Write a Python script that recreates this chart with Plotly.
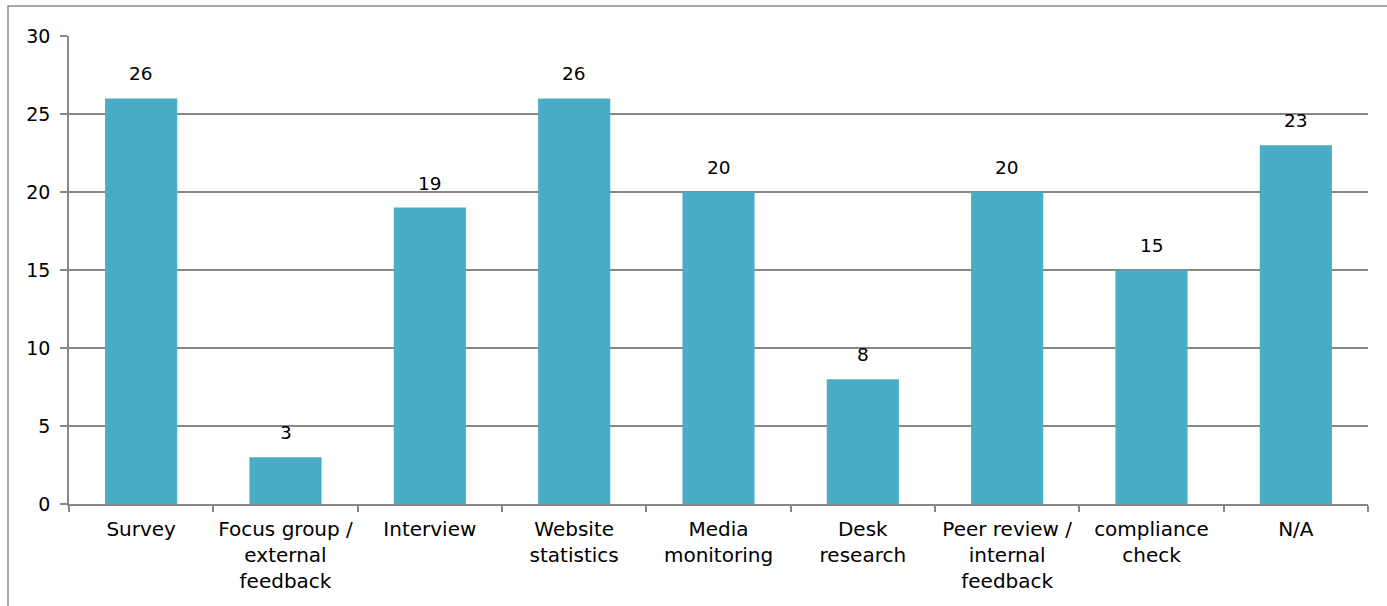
import plotly.graph_objects as go

categories = ["Survey", "Focus group /<br>external<br>feedback", "Interview", "Website<br>statistics",
              "Media<br>monitoring", "Desk<br>research", "Peer review /<br>internal<br>feedback",
              "compliance<br>check", "N/A"]
values = [26, 3, 19, 26, 20, 8, 20, 15, 23]
y_ticks = [0, 5, 10, 15, 20, 25, 30]

FONT = "DejaVu Sans"
GRID = "#878787"

fig = go.Figure()
fig.add_trace(go.Bar(x=categories, y=values, marker=dict(color="#4BACC6", line=dict(width=0)),
                     width=0.5, showlegend=False, hoverinfo="skip"))

for c, v in zip(categories, values):
    fig.add_annotation(x=c, y=v, text=str(v), showarrow=False, yanchor="bottom",
                       yshift=12, font=dict(family=FONT, size=18.5, color="#000000"))

L, R, T, B = 69, 1368, 36, 504
W, H = 1387, 606
pw, ph = R - L, B - T

fig.add_shape(type="rect", xref="paper", yref="paper",
              x0=(8 - L) / pw, x1=(1400 - L) / pw,
              y0=(B - 640) / ph, y1=(B - 6) / ph,
              line=dict(color="#8c8c8c", width=1.5), fillcolor="rgba(0,0,0,0)", layer="below")

fig.update_layout(
    width=W, height=H,
    margin=dict(l=L, r=W - R, t=T, b=H - B, pad=0),
    paper_bgcolor="white", plot_bgcolor="white",
    font=dict(family=FONT, size=18, color="#000000"),
    xaxis=dict(showgrid=False, showline=True, linecolor=GRID, linewidth=1.5,
               ticks="outside", tickson="boundaries", ticklen=6, tickcolor=GRID, tickwidth=1.5,
               ticklabelstandoff=6,
               tickfont=dict(family=FONT, size=20, color="#000000"), tickangle=0),
    yaxis=dict(range=[0, 30], tickvals=y_ticks, showgrid=True, gridcolor=GRID, gridwidth=1.5,
               showline=True, linecolor=GRID, linewidth=1.5, zeroline=False,
               ticks="outside", ticklen=7, tickcolor=GRID, tickwidth=1.5,
               ticklabelstandoff=6,
               tickfont=dict(family=FONT, size=19, color="#000000")),
)

fig.write_html("out.html")
